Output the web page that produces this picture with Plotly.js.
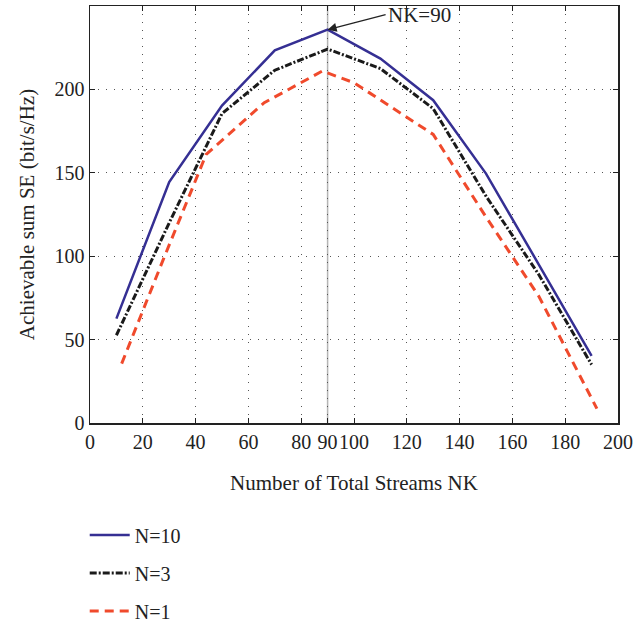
<!DOCTYPE html>
<html>
<head>
<meta charset="utf-8">
<script src="https://cdn.plot.ly/plotly-3.0.1.min.js"></script>
<style>html,body{margin:0;padding:0;background:#fff;}#chart{width:644px;height:622px;}</style>
</head>
<body>
<div id="chart"></div>
<script>
// Data
const xN10 = [10, 30, 50, 70, 90, 110, 130, 150, 170, 190];
const yN10 = [62.6, 144.5, 190.3, 223.4, 235.8, 218.5, 193.5, 149.5, 95, 40.2];
const xN3 = [10, 30, 50, 70, 90, 110, 130, 150, 170, 190];
const yN3 = [52.6, 120, 185.5, 211.5, 224.2, 212.5, 188.5, 136, 89, 35];
const xN1 = [12, 28, 44, 66, 88, 100, 130, 150, 170, 192];
const yN1 = [35.6, 99, 161, 192, 211, 204, 173, 123.5, 76, 8.6];
const seriesNames = ['N=10', 'N=3', 'N=1'];
const xTicks = [0, 20, 40, 60, 80, 90, 100, 120, 140, 160, 180, 200];
const yTicks = [0, 50, 100, 150, 200];
const peakX = 90;
const peakY = 235.8;
const peakLabel = 'NK=90';

const serif = 'Liberation Serif, Times New Roman, serif';
const traces = [
  {x: xN10, y: yN10, name: seriesNames[0], mode: 'lines', legendgroup: 'a',
   line: {color: '#352f93', width: 2.5}},
  {x: xN3, y: yN3, name: seriesNames[1], mode: 'lines', legendgroup: 'b',
   line: {color: '#1a1a1a', width: 3, dash: '7px,2px,2px,2px'}},
  {x: xN1, y: yN1, name: seriesNames[2], mode: 'lines', legendgroup: 'c',
   line: {color: '#f04a2c', width: 3, dash: '9px,6px'}}
];

const axisCommon = {
  showline: true, linecolor: '#222', linewidth: 1.5, mirror: 'ticks',
  ticks: 'inside', ticklen: 5, tickwidth: 1, tickcolor: '#222',
  showgrid: true, gridcolor: '#555', griddash: '1px,7px', gridwidth: 1,
  zeroline: false, automargin: false,
  tickfont: {family: serif, size: 20, color: '#222'}
};

const layout = {
  width: 644, height: 622,
  margin: {l: 90, r: 26, t: 6, b: 199, autoexpand: false},
  paper_bgcolor: '#fff', plot_bgcolor: '#fff',
  showlegend: true,
  legend: {x: -0.01, xanchor: 'left', y: -0.222, yanchor: 'top', tracegroupgap: 9,
    itemwidth: 40,
    font: {family: serif, size: 20, color: '#222'}, bgcolor: 'rgba(0,0,0,0)'},
  xaxis: Object.assign({}, axisCommon, {
    range: [0, 200], tickvals: xTicks, ticktext: xTicks.map(String), tickangle: 0,
    title: {text: 'Number of Total Streams NK', font: {family: serif, size: 21, color: '#222'}, standoff: 24}
  }),
  yaxis: Object.assign({}, axisCommon, {
    range: [0, 250], tickvals: yTicks, ticktext: yTicks.map(String),
    title: {text: 'Achievable sum SE (bit/s/Hz)', font: {family: serif, size: 21, color: '#222'}, standoff: 14}
  }),
  shapes: [
    {type: 'line', xref: 'x', yref: 'paper', x0: peakX, x1: peakX, y0: 0, y1: 1,
     line: {color: '#b5b5b5', width: 1.5}, layer: 'below'}
  ],
  annotations: [
    {x: peakX, y: peakY, xref: 'x', yref: 'y', text: peakLabel, showarrow: true,
     arrowhead: 2, arrowsize: 1.5, arrowwidth: 1.2, arrowcolor: '#222',
     ax: 58, ay: -15, xanchor: 'left',
     font: {family: serif, size: 21, color: '#222'}}
  ]
};

Plotly.newPlot('chart', traces, layout, {displayModeBar: false, staticPlot: true});
</script>
</body>
</html>
